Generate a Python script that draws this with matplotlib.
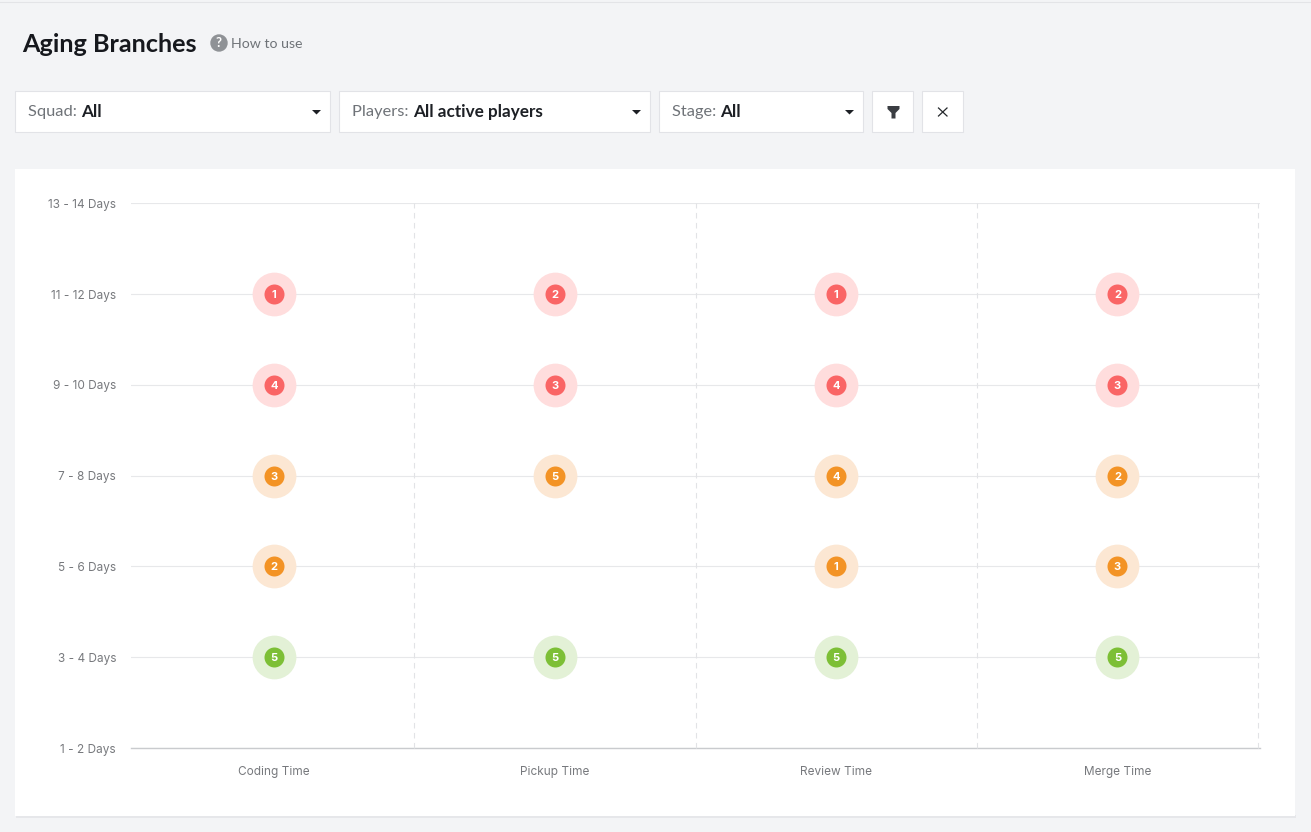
import matplotlib.pyplot as plt
from matplotlib.patches import Rectangle, Polygon, Circle

W, H = 1311, 832

# data
stages = ["Coding Time", "Pickup Time", "Review Time", "Merge Time"]
age_labels = ["1 - 2 Days", "3 - 4 Days", "5 - 6 Days", "7 - 8 Days",
              "9 - 10 Days", "11 - 12 Days", "13 - 14 Days"]
coding_counts = [None, 5, 2, 3, 4, 1, None]
pickup_counts = [None, 5, None, 5, 3, 2, None]
review_counts = [None, 5, 1, 4, 4, 1, None]
merge_counts = [None, 5, 3, 2, 3, 2, None]
all_counts = [coding_counts, pickup_counts, review_counts, merge_counts]

# colour by age bucket
dot_colors = [None, "#7DBF36", "#F39325", "#F39325", "#FA6565", "#FA6565", None]
halo_colors = [None, "#E3F1D6", "#FCE7D3", "#FCE7D3", "#FFDDDD", "#FFDDDD", None]

BG = "#F3F4F6"
BORDER = "#E2E3E7"
plt.rcParams["font.family"] = ["Lato", "DejaVu Sans"]

fig = plt.figure(figsize=(W / 100, H / 100), dpi=100, facecolor=BG)

# page chrome, in pixel coordinates
ui = fig.add_axes([0, 0, 1, 1])
ui.set_xlim(0, W)
ui.set_ylim(H, 0)
ui.axis("off")

ui.plot([0, W], [2, 2], color="#E3E4E7", lw=0.8)
ui.text(22.5, 44, "Aging Branches", fontsize=18.2, fontweight="bold", color="#16181D", va="center")
ui.add_patch(Circle((219, 43), 8, color="#8F9296"))
ui.text(219, 43, "?", fontsize=9.5, fontweight="bold", color="white", ha="center", va="center")
ui.text(231, 44, "How to use", fontsize=10.2, color="#6F7378", va="center")


def box(x0, x1):
    ui.add_patch(Rectangle((x0, 91), x1 - x0, 41, facecolor="white", edgecolor=BORDER, lw=0.8))


def dropdown(x0, x1, label, value):
    box(x0, x1)
    t = ui.text(x0 + 13, 112, label + " ", fontsize=11.8, color="#6F7378", va="center")
    fig.canvas.draw()
    end = ui.transData.inverted().transform(t.get_window_extent().corners()[-1])[0]
    ui.text(end, 112, value, fontsize=12.3, fontweight="bold", color="#1D2025", va="center")
    ui.add_patch(Polygon([(x1 - 18, 110), (x1 - 9, 110), (x1 - 13.5, 114.5)], color="#1D2025", lw=0))


dropdown(15, 330, "Squad:", "All")
dropdown(339, 650, "Players:", "All active players")
dropdown(659, 863, "Stage:", "All")
box(872, 913)
box(922, 963)
ui.add_patch(Polygon([(887.5, 106), (899.5, 106), (899.5, 109), (895.5, 113), (895.5, 118.5),
                      (891.5, 118.5), (891.5, 113), (887.5, 109)], color="#3A3D42", lw=0))
ui.plot([938.5, 947], [108, 116], color="#24272B", lw=0.9)
ui.plot([938.5, 947], [116, 108], color="#24272B", lw=0.9)

# white card
ui.add_patch(Rectangle((16, 815), 1280, 3, facecolor="#E6E7EA", edgecolor="none"))
ui.add_patch(Rectangle((15, 169), 1280, 647, facecolor="white", edgecolor="none"))

# chart area
left, right, top, bottom = 130.6, 1260, 203.3, 748
ax = fig.add_axes([left / W, 1 - bottom / H, (right - left) / W, (bottom - top) / H])
ax.patch.set_alpha(0)
ax.set_xlim((left - 273.8) / 281.2, (right - 273.8) / 281.2)
ax.set_ylim(0, len(age_labels) - 1)
for s in ax.spines.values():
    s.set_visible(False)

ax.set_yticks(range(len(age_labels)))
ax.set_yticklabels(age_labels)
ax.set_xticks(range(len(stages)))
ax.set_xticklabels(stages)
ax.tick_params(length=0, labelsize=8.5, labelcolor="#77797D", labelfontfamily="Inter")
ax.tick_params(axis="y", pad=10.5)
ax.tick_params(axis="x", pad=13)

ax.grid(axis="y", color="#E7E8EA", lw=0.8)
ax.set_axisbelow(True)
ax.axhline(0, color="#C9CBCE", lw=1, zorder=1, clip_on=False)
for i in range(len(stages)):
    ax.plot([i + 0.5, i + 0.5], [0, 6], color="#E2E3E6", lw=0.8, ls=(0, (5, 4)), clip_on=False, zorder=1)

for i, counts in enumerate(all_counts):
    for j, n in enumerate(counts):
        if n is None:
            continue
        ax.scatter(i, j, s=31.5 ** 2, color=halo_colors[j], linewidths=0, zorder=3)
        ax.scatter(i, j, s=14.4 ** 2, color=dot_colors[j], linewidths=0, zorder=4)
        ax.text(i, j, str(n), fontsize=8, fontweight="bold", fontfamily="Inter", color="white",
                ha="center", va="center_baseline", zorder=5)

fig.savefig("out.png", dpi=100, facecolor=BG)
